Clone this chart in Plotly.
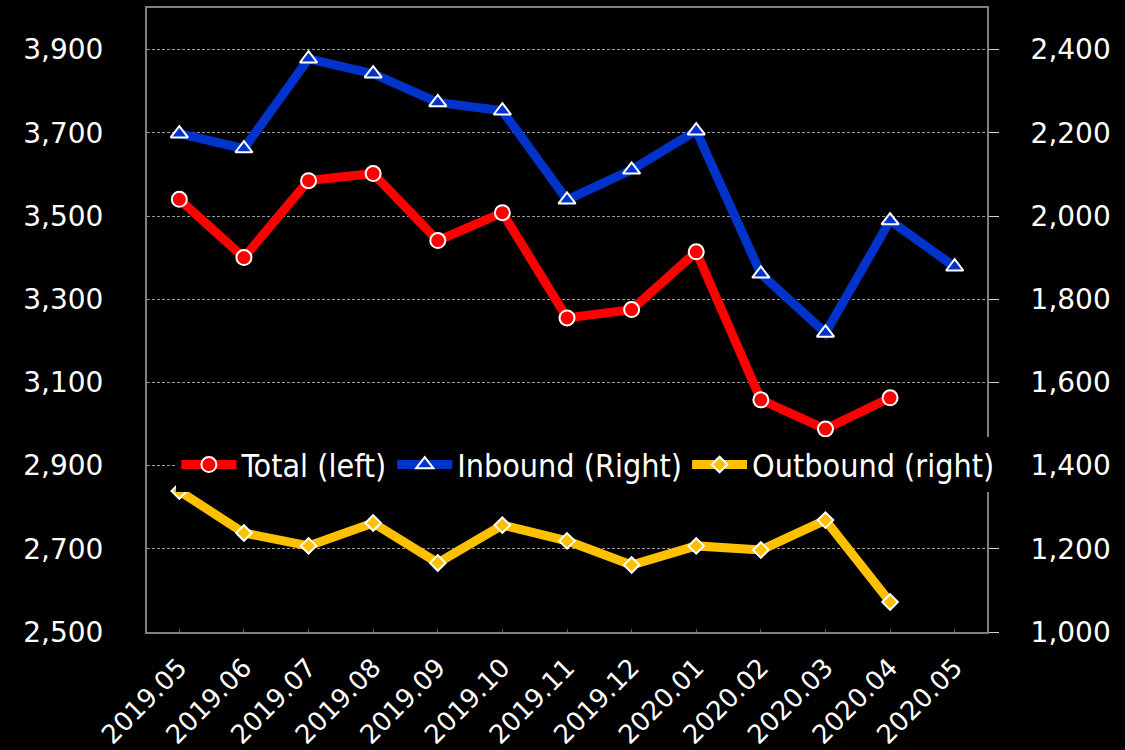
import plotly.graph_objects as go

months = ["2019.05", "2019.06", "2019.07", "2019.08", "2019.09", "2019.10", "2019.11",
          "2019.12", "2020.01", "2020.02", "2020.03", "2020.04", "2020.05"]
total_left = [3540, 3400, 3585, 3602, 3441, 3508, 3255, 3275, 3414, 3058, 2988, 3063, None]
inbound_right = [2198, 2162, 2378, 2342, 2273, 2253, 2039, 2111, 2205, 1861, 1719, 1989, 1878]
outbound_right = [1339, 1238, 1207, 1262, 1166, 1257, 1219, 1161, 1207, 1197, 1269, 1072, None]

fig = go.Figure()
fig.add_trace(go.Scatter(
    x=months, y=total_left, name="Total (left)", mode="lines+markers",
    line=dict(color="#ff0000", width=9),
    marker=dict(symbol="circle", size=15, color="#ff0000", line=dict(color="white", width=2)),
    yaxis="y"))
fig.add_trace(go.Scatter(
    x=months, y=inbound_right, name="Inbound (Right)", mode="lines+markers",
    line=dict(color="#0033cc", width=9),
    marker=dict(symbol="triangle-up", size=15, color="#0033cc", line=dict(color="white", width=2)),
    yaxis="y2"))
fig.add_trace(go.Scatter(
    x=months, y=outbound_right, name="Outbound (right)", mode="lines+markers",
    line=dict(color="#ffc000", width=9),
    marker=dict(symbol="diamond", size=12, color="#ffc000", line=dict(color="white", width=2)),
    yaxis="y2"))

tick_font = dict(family="DejaVu Sans", size=28, color="white")
fig.update_layout(
    width=1125, height=750,
    paper_bgcolor="black", plot_bgcolor="black",
    margin=dict(l=147, r=138, t=8, b=118, autoexpand=False),
    showlegend=True,
    legend=dict(orientation="h", x=0.035, y=0.268, xanchor="left", yanchor="middle",
                bgcolor="black",
                font=dict(family="DejaVu Sans Condensed, Liberation Sans Narrow, DejaVu Sans",
                          size=32, color="white"),
                itemwidth=55, tracegroupgap=0),
    xaxis=dict(type="category", tickangle=-45, range=[-0.5, 12.5],
               tickfont=dict(family="DejaVu Sans", size=26, color="white"),
               showline=True, linecolor="#808080", linewidth=2, mirror=True,
               showgrid=False, ticks="inside", ticklen=3, tickcolor="#606060",
               ticklabelstandoff=8),
    yaxis=dict(range=[2500, 4000], tick0=2500, dtick=200, tickformat=",",
               tickfont=tick_font, showline=True, linecolor="#808080", linewidth=2, mirror=True,
               showgrid=True, gridcolor="#9a9a9a", gridwidth=1, griddash="3px,2px",
               zeroline=False, ticks="", ticklabelstandoff=36),
    yaxis2=dict(range=[1000, 2500], tick0=1000, dtick=200, tickformat=",", overlaying="y", side="right",
                tickfont=tick_font, showline=True, linecolor="#808080", linewidth=2,
                showgrid=False, zeroline=False, ticks="outside", ticklen=10, tickcolor="#d0d0d0",
                tickwidth=1, ticklabelstandoff=26),
)
fig.write_html("out.html", config={"displayModeBar": False},
               post_script="document.body.style.margin='0';document.body.style.background='black';")
